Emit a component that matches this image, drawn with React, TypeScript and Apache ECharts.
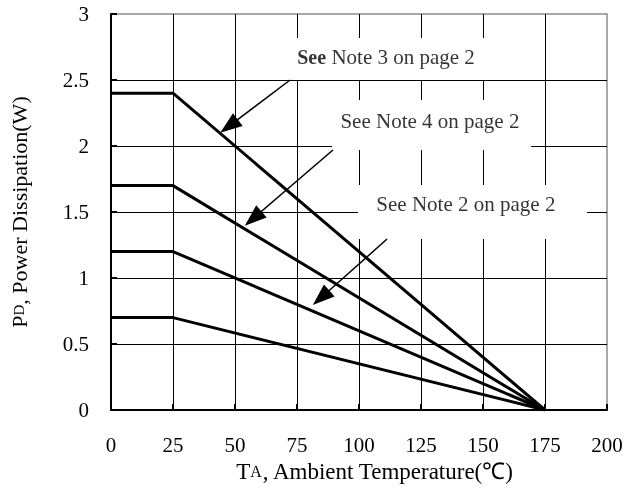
import React, { useEffect, useRef } from "react";
import * as echarts from "echarts";

// Ambient temperature breakpoints (°C)
const temps = [0, 25, 175];
// Power dissipation curves (W)
const curveA = [2.4, 2.4, 0];
const curveB = [1.7, 1.7, 0];
const curveC = [1.2, 1.2, 0];
const curveD = [0.7, 0.7, 0];
const curves = [curveA, curveB, curveC, curveD];

// Note labels (data coords of text centre)
const noteTexts = ["See Note 3 on page 2", "See Note 4 on page 2", "See Note 2 on page 2"];
const noteBoldSee = [true, false, false];
const noteX = [110.9, 128.6, 143.1];
const noteY = [2.674, 2.19, 1.56];
// White boxes behind the notes [x1, y1, x2, y2]
const noteBoxes = [
  [72.2, 2.818, 157.7, 2.5],
  [89.1, 2.348, 169.4, 1.97],
  [99.6, 1.705, 191.9, 1.295],
];
// Arrows [fromX, fromY, toX, toY]
const arrows = [
  [72.2, 2.5, 47.6, 2.15],
  [89.5, 1.97, 57.3, 1.45],
  [111.3, 1.295, 84.7, 0.85],
];

const FONT = "Liberation Serif";

export default function App() {
  const ref = useRef<HTMLDivElement>(null);
  useEffect(() => {
    if (!ref.current) return;
    const chart = echarts.init(ref.current, undefined, { renderer: "svg" });
    const lineSeries = curves.map((c, i) => ({
      type: "line",
      name: "curve" + i,
      data: temps.map((t, j) => [t, c[j]]),
      symbol: "none",
      lineStyle: { color: "#000", width: 3 },
      z: 3,
      silent: true,
    }));
    chart.setOption({
      animation: false,
      textStyle: { fontFamily: FONT },
      grid: {
        left: 111,
        right: 19,
        top: 14,
        bottom: 78,
        outerBoundsMode: "none",
        containLabel: false,
        show: true,
        borderColor: "#8c8c8c",
        borderWidth: 1.5,
        backgroundColor: "#fff",
      },
      xAxis: {
        type: "value",
        min: 0,
        max: 200,
        interval: 25,
        name: "{t|T}{s|A}{t|, Ambient Temperature(℃)}",
        nameLocation: "middle",
        nameGap: 48,
        nameTextStyle: {
          padding: [0, 0, 0, 32],
          rich: {
            t: { fontFamily: FONT, fontSize: 23, color: "#000" },
            s: { fontFamily: FONT, fontSize: 16, color: "#000" },
          },
        },
        axisLine: { show: true, lineStyle: { color: "#000", width: 2 } },
        axisTick: { show: true, inside: true, length: 6, lineStyle: { color: "#000", width: 2 } },
        axisLabel: { fontFamily: FONT, fontSize: 21, color: "#000", margin: 24 },
        splitLine: { show: true, showMaxLine: false, lineStyle: { color: "#000", width: 1 } },
      },
      yAxis: {
        type: "value",
        min: 0,
        max: 3,
        interval: 0.5,
        name: "{t|P}{s|D}{t|, Power Dissipation(W)}",
        nameLocation: "middle",
        nameGap: 81,
        nameTextStyle: {
          rich: {
            t: { fontFamily: FONT, fontSize: 22, color: "#000" },
            s: { fontFamily: FONT, fontSize: 15, color: "#000" },
          },
        },
        axisLine: { show: true, lineStyle: { color: "#000", width: 2 } },
        axisTick: { show: true, inside: true, length: 6, lineStyle: { color: "#000", width: 2 } },
        axisLabel: { fontFamily: FONT, fontSize: 21, color: "#000", margin: 22, padding: [6, 0, 0, 0] },
        splitLine: { show: true, showMaxLine: false, lineStyle: { color: "#000", width: 1 } },
      },
      series: [
        ...lineSeries,
        {
          type: "scatter",
          name: "notes",
          symbolSize: 0,
          silent: true,
          z: 4,
          data: noteTexts.map((t, i) => ({ value: [noteX[i], noteY[i]], name: t })),
          label: {
            show: true,
            position: "inside",
            formatter: (p: any) => {
              const s = String(p.name);
              const bold = noteBoldSee[p.dataIndex];
              return bold ? "{b|See}{n|" + s.slice(3) + "}" : "{n|" + s + "}";
            },
            rich: {
              b: { fontFamily: FONT, fontSize: 20, fontWeight: "bold", color: "#000" },
              n: { fontFamily: FONT, fontSize: 21, color: "#000" },
            },
          },
          markArea: {
            silent: true,
            itemStyle: { color: "#fff", borderWidth: 0 },
            label: { show: false },
            data: noteBoxes.map((b) => [{ coord: [b[0], b[1]] }, { coord: [b[2], b[3]] }]),
          },
          markLine: {
            silent: true,
            symbol: ["none", "triangle"],
            symbolSize: [16, 22],
            label: { show: false },
            lineStyle: { color: "#000", width: 1.5, type: "solid" },
            itemStyle: { color: "#000" },
            data: arrows.map((a) => [{ coord: [a[0], a[1]] }, { coord: [a[2], a[3]] }]),
          },
        },
      ],
    });
    return () => chart.dispose();
  }, []);
  return (
    <div
      ref={ref}
      style={{ position: "fixed", left: 0, top: 0, width: 626, height: 488 }}
    />
  );
}
